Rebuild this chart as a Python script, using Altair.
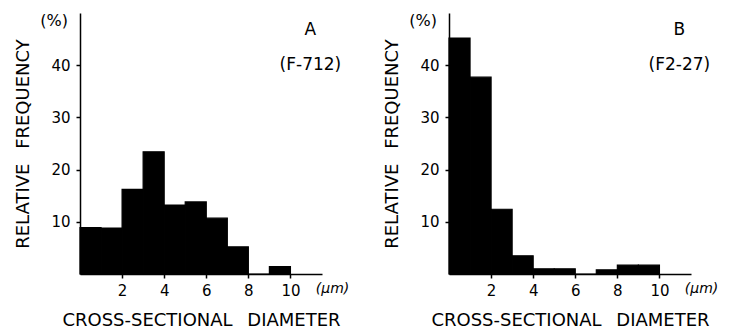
import altair as alt
import pandas as pd

bin_start = [0, 1, 2, 3, 4, 5, 6, 7, 8, 9]
bin_end = [1, 2, 3, 4, 5, 6, 7, 8, 9, 10]
freq_a = [8.9, 8.8, 16.2, 23.4, 13.2, 13.8, 10.7, 5.2, 0.0, 1.4]
freq_b = [45.2, 37.7, 12.4, 3.5, 1.0, 1.0, 0.0, 0.8, 1.7, 1.7]
x_ticks = [2, 4, 6, 8, 10]
y_ticks = [10, 20, 30, 40]

FONT = "DejaVu Sans"


def one(label):
    return alt.Chart(pd.DataFrame({"label": [label]}))


def panel(freq, letter, code):
    df = pd.DataFrame({"start": bin_start, "end": bin_end, "value": freq})
    xs = alt.Scale(domain=[0, 11.5], nice=False, zero=False)
    ys = alt.Scale(domain=[0, 50], nice=False)
    bars = alt.Chart(df).mark_rect(fill="black", stroke="black", strokeWidth=1.2).encode(
        x=alt.X("start:Q", scale=xs, axis=alt.Axis(
            values=x_ticks, title="CROSS-SECTIONAL\u2002 DIAMETER", grid=False,
            tickSize=4, labelPadding=5, titlePadding=13)),
        x2="end:Q",
        y=alt.Y("value:Q", scale=ys, axis=alt.Axis(
            values=y_ticks, title="RELATIVE\u2002 FREQUENCY", grid=False,
            tickSize=4, labelPadding=6, titlePadding=18)),
        y2=alt.datum(0),
    )
    tstyle = dict(font=FONT, fontWeight="normal", fill="black")
    t_letter = one(letter).mark_text(fontSize=17, **tstyle).encode(
        x=alt.datum(10.95), y=alt.datum(46.7), text="label:N")
    t_code = one(code).mark_text(fontSize=17, **tstyle).encode(
        x=alt.datum(10.95), y=alt.datum(40.0), text="label:N")
    t_pct = one("(%)").mark_text(fontSize=16, align="right", **tstyle).encode(
        x=alt.value(-12), y=alt.datum(48.4), text="label:N")
    t_um = one("(\u03bcm)").mark_text(fontSize=14, fontStyle="italic", **tstyle).encode(
        x=alt.datum(12.0), y=alt.value(261 + 15), text="label:N")
    return alt.layer(bars, t_letter, t_code, t_pct, t_um).properties(width=242, height=261)


chart = alt.hconcat(
    panel(freq_a, "A", "(F-712)"),
    panel(freq_b, "B", "(F2-27)"),
    spacing=33,
).properties(
    padding={"left": 6, "top": 5, "right": 0, "bottom": 0}
).configure_view(stroke=None).configure_axis(
    domainColor="black", domainWidth=1.5, tickColor="black", tickWidth=1.5,
    labelColor="black", labelFont=FONT, labelFontSize=15,
    titleColor="black", titleFont=FONT, titleFontSize=18, titleFontWeight="normal",
)

chart.save("out.html", embed_options={"renderer": "svg", "actions": False})
